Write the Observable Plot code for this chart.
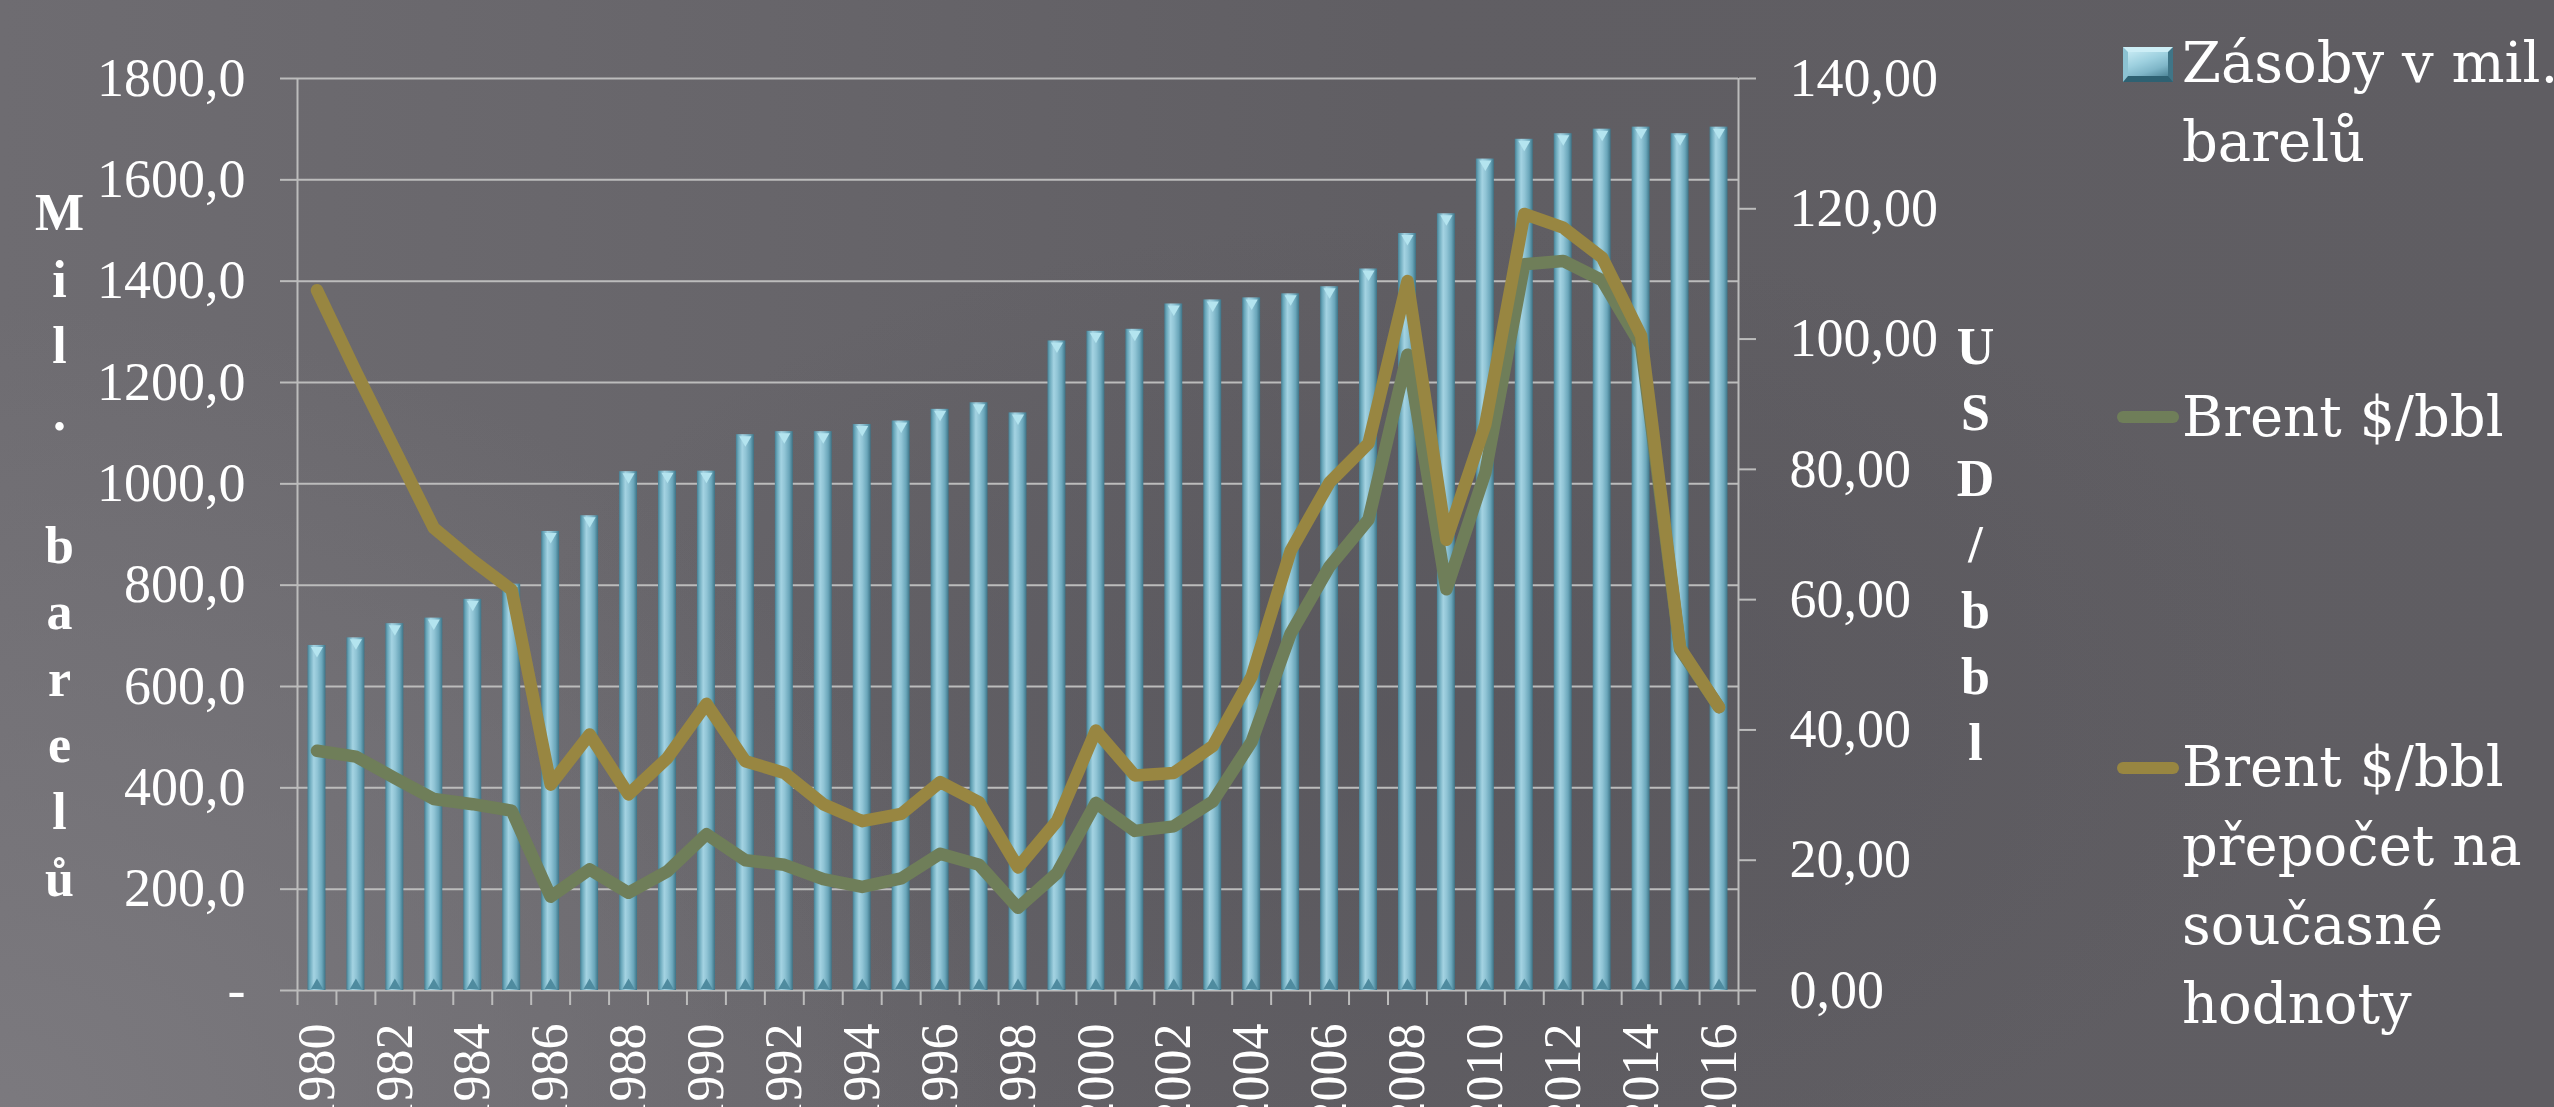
<!DOCTYPE html>
<html>
<head>
<meta charset="utf-8">
<script src="https://cdn.jsdelivr.net/npm/d3@7"></script>
<script src="https://cdn.jsdelivr.net/npm/@observablehq/plot@0.6"></script>
<style>
  html, body { margin: 0; padding: 0; }
  body {
    width: 2554px; height: 1107px; overflow: hidden; position: relative;
    background:
      radial-gradient(ellipse 1000px 800px at 0% 100%, rgba(124,122,127,0.95), rgba(124,122,127,0) 100%),
      radial-gradient(ellipse 900px 500px at 55% 65%, rgba(85,83,89,0.6), rgba(85,83,89,0) 100%),
      linear-gradient(to right, #6e6c71 0%, #67656a 30%, #605e63 55%, #5f5d62 100%);
  }
  #chart { position: absolute; left: 0; top: 0; }
  .leg { position: absolute; left: 2182px; font-family: "DejaVu Serif", serif; font-size: 56px;
         line-height: 79px; color: #ffffff; white-space: nowrap; }
  .sw-bar { position: absolute; left: 2123px; top: 47px; width: 50px; height: 35px; box-sizing: border-box;
            background: linear-gradient(160deg, #c4e9f2 0%, #9dd0df 40%, #7fb6c8 70%, #4f8799 100%);
            border-top: 5px solid #cdeef6; border-left: 5px solid #8cc2d2; border-right: 5px solid #3f7587; border-bottom: 6px solid #2e6172; }
  .sw-line { position: absolute; left: 2117px; width: 62px; height: 12px; border-radius: 6px; }
</style>
</head>
<body>
<div id="chart"></div>
<div class="sw-bar"></div>
<div class="leg" style="top:23px;">Zásoby v mil.<br>barelů</div>
<div class="sw-line" style="top:411px; background:#6f7e59;"></div>
<div class="leg" style="top:377px;">Brent $/bbl</div>
<div class="sw-line" style="top:762px; background:#988641;"></div>
<div class="leg" style="top:727px;">Brent $/bbl<br>přepočet na<br>současné<br>hodnoty</div>
<script>
const years = [1980,1981,1982,1983,1984,1985,1986,1987,1988,1989,1990,1991,1992,1993,1994,1995,1996,1997,1998,1999,
               2000,2001,2002,2003,2004,2005,2006,2007,2008,2009,2010,2011,2012,2013,2014,2015,2016];
// Zásoby v mil. barelů (left axis)
const stocks = [681,696,724,735,772,802,906,937,1024,1025,1025,1097,1103,1103,1117,1124,1147,1160,1140,1282,
                1301,1305,1355,1363,1367,1375,1389,1424,1494,1533,1641,1680,1691,1700,1704,1691,1704];
// Brent $/bbl (right axis)
const brent = [36.8,35.9,32.6,29.4,28.6,27.6,14.4,18.6,15.0,18.3,24.0,20.0,19.3,17.1,15.9,17.2,21.0,19.3,12.7,18.0,
               28.8,24.5,25.2,29.0,38.2,54.8,65.1,72.3,97.6,61.6,79.5,111.5,112.0,109.0,99.0,52.4,43.5];
// Brent $/bbl přepočet na současné hodnoty (right axis)
const brentReal = [107.5,95.0,83.0,71.0,66.0,61.5,31.6,39.3,30.1,35.7,44.0,35.2,33.4,28.6,26.0,27.1,32.0,28.9,18.9,26.0,
                   39.9,33.0,33.4,37.5,48.2,67.5,78.0,84.0,108.9,69.2,86.9,119.2,117.1,112.5,100.5,52.6,43.5];
const leftTicks = [0,200,400,600,800,1000,1200,1400,1600,1800];
const rightTicks = [0,20,40,60,80,100,120,140];
const labelYears = [1980,1982,1984,1986,1988,1990,1992,1994,1996,1998,2000,2002,2004,2006,2008,2010,2012,2014,2016];
const leftTitle = "M\ni\nl\n.\n\u00a0\nb\na\nr\ne\nl\nů";
const rightTitle = "U\nS\nD\n/\nb\nb\nl";

const k = 1800 / 140; // right-axis units mapped onto the left scale
const boundaries = [years[0] - 0.5, ...years.map(y => y + 0.5)];
const gridColor = "#bcbcbc";

const plot = Plot.plot({
  width: 2554, height: 1107,
  marginLeft: 297, marginRight: 816, marginTop: 78, marginBottom: 117,
  x: {domain: [1979.5, 2016.5]},
  y: {domain: [0, 1800]},
  style: {background: "transparent", color: "white", fontFamily: "Liberation Serif", overflow: "hidden"},
  marks: [
    Plot.ruleY(leftTicks, {stroke: gridColor, strokeWidth: 2}),
    Plot.ruleX([boundaries[0], boundaries[boundaries.length - 1]], {stroke: gridColor, strokeWidth: 2}),
    Plot.axisY({anchor: "left", ticks: leftTicks, tickSize: 17, tickPadding: 35, fontSize: 54,
      stroke: gridColor, strokeWidth: 2, fill: "white",
      tickFormat: d => d === 0 ? "-" : d.toFixed(1).replace(".", ",")}),
    Plot.axisY({anchor: "right", ticks: rightTicks.map(v => v * k), tickSize: 17, tickPadding: 34, fontSize: 54,
      stroke: gridColor, strokeWidth: 2, fill: "white",
      tickFormat: d => (d / k).toFixed(2).replace(".", ",")}),
    Plot.axisX({ticks: boundaries, tickSize: 15, tickFormat: () => "", stroke: gridColor, strokeWidth: 2}),
    Plot.axisX({ticks: labelYears, tickSize: 0, tickPadding: 33, tickRotate: -90, fontSize: 52,
      fill: "white", tickFormat: d => String(d)}),
    Plot.rect(years, {x1: d => d - 0.5, x2: d => d + 0.5, y1: () => 0, y2: (d, i) => stocks[i],
      insetLeft: 10.5, insetRight: 10.5, fill: "url(#barGrad)"}),
    Plot.dot(years, {x: d => d, y: (d, i) => stocks[i], symbol: "triangle", rotate: 180, r: 4.5, dy: 5,
      fill: "#b4e4ef", stroke: "none"}),
    Plot.dot(years, {x: d => d, y: () => 0, symbol: "triangle", r: 4.5, dy: -5, fill: "#4f8b9f", stroke: "none"}),
    Plot.line(years, {x: d => d, y: (d, i) => brent[i] * k, stroke: "#6f7e59", strokeWidth: 12.5,
      strokeLinejoin: "round", strokeLinecap: "round"}),
    Plot.line(years, {x: d => d, y: (d, i) => brentReal[i] * k, stroke: "#988641", strokeWidth: 12.5,
      strokeLinejoin: "round", strokeLinecap: "round"}),
    Plot.text([leftTitle], {text: d => d, frameAnchor: "left", dx: -238, dy: 7, fontSize: 52, fontWeight: "bold",
      lineHeight: 1.28, fill: "white", textAnchor: "middle"}),
    Plot.text([rightTitle], {text: d => d, frameAnchor: "right", dx: 237, dy: 6, fontSize: 52, fontWeight: "bold",
      lineHeight: 1.27, fill: "white", textAnchor: "middle"})
  ]
});

const defs = d3.select(plot).insert("defs", ":first-child");
const grad = defs.append("linearGradient").attr("id", "barGrad")
  .attr("x1", "0").attr("x2", "1").attr("y1", "0").attr("y2", "0");
[["0%", "#467f93"], ["12%", "#68a6b9"], ["35%", "#a4d3e2"], ["55%", "#90c4d5"], ["80%", "#6aa6ba"], ["100%", "#3d7487"]]
  .forEach(([o, c]) => grad.append("stop").attr("offset", o).attr("stop-color", c));

document.getElementById("chart").appendChild(plot);
</script>
</body>
</html>
